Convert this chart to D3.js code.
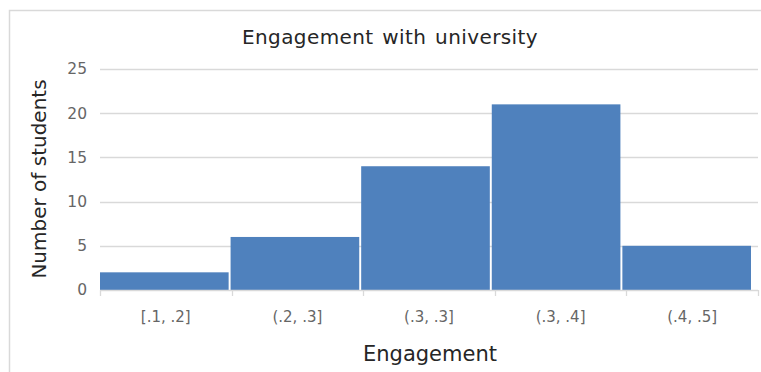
<!DOCTYPE html>
<html>
<head>
<meta charset="utf-8">
<script src="https://cdn.jsdelivr.net/npm/d3@7"></script>
<style>
  html, body { margin: 0; padding: 0; background: #fff; }
  svg { display: block; }
  text { font-family: "DejaVu Sans", "Open Sans", sans-serif; }
</style>
</head>
<body>
<svg id="chart" width="761" height="372"></svg>
<script>
// Histogram bins and counts
const categories = ["[.1, .2]", "(.2, .3]", "(.3, .3]", "(.3, .4]", "(.4, .5]"];
const counts = [2, 6, 14, 21, 5];
const yTicks = [0, 5, 10, 15, 20, 25];

const title = "Engagement with university";
const xTitle = "Engagement";
const yTitle = "Number of students";

const svg = d3.select("#chart");
const W = 761, H = 372;
const plot = { left: 100, right: 758, top: 69, bottom: 290 };

// Chart frame
svg.append("path")
  .attr("d", `M9.5,${H} V10.5 H${W}`)
  .attr("fill", "none")
  .attr("stroke", "#d9d9d9")
  .attr("stroke-width", 1.5);

const x = d3.scaleBand().domain(categories).range([plot.left, plot.right]);
const xBars = d3.scaleBand().domain(categories).range([plot.left, plot.right - 7]).paddingInner(0.015);
const y = d3.scaleLinear().domain([0, 25]).range([plot.bottom, plot.top]);

// Horizontal gridlines
svg.append("g").selectAll("line")
  .data(yTicks.filter(d => d > 0))
  .join("line")
  .attr("x1", plot.left).attr("x2", plot.right)
  .attr("y1", d => Math.round(y(d)) + 0.5).attr("y2", d => Math.round(y(d)) + 0.5)
  .attr("stroke", "#d9d9d9").attr("stroke-width", 1.3);

// Bars
svg.append("g").selectAll("rect")
  .data(counts)
  .join("rect")
  .attr("x", (d, i) => xBars(categories[i]))
  .attr("width", xBars.bandwidth())
  .attr("y", d => y(d))
  .attr("height", d => y(0) - y(d))
  .attr("fill", "#4f81bd");

// X axis with boundary ticks
const gx = svg.append("g");
gx.append("line")
  .attr("x1", plot.left).attr("x2", plot.right)
  .attr("y1", plot.bottom + 0.5).attr("y2", plot.bottom + 0.5)
  .attr("stroke", "#d9d9d9").attr("stroke-width", 1.3);
const bounds = categories.map(c => x(c)).concat([plot.right]);
gx.selectAll("line.tick")
  .data(bounds)
  .join("line")
  .attr("class", "tick")
  .attr("x1", d => Math.round(d) + 0.5).attr("x2", d => Math.round(d) + 0.5)
  .attr("y1", plot.bottom).attr("y2", plot.bottom + 6)
  .attr("stroke", "#d9d9d9").attr("stroke-width", 1.3);
gx.selectAll("text")
  .data(categories)
  .join("text")
  .attr("x", d => x(d) + x.bandwidth() / 2)
  .attr("y", 317)
  .attr("dy", "0.35em")
  .attr("text-anchor", "middle")
  .attr("font-size", 15)
  .attr("fill", "#666666")
  .text(d => d);

// Y axis labels
svg.append("g").selectAll("text")
  .data(yTicks)
  .join("text")
  .attr("x", 87)
  .attr("y", d => y(d))
  .attr("dy", "0.35em")
  .attr("text-anchor", "end")
  .attr("font-size", 15.5)
  .attr("fill", "#666666")
  .text(d => d);

// Titles
svg.append("text")
  .attr("x", 390).attr("y", 43.5)
  .attr("text-anchor", "middle")
  .attr("font-size", 20)
  .attr("word-spacing", 2)
  .attr("letter-spacing", 0.4)
  .attr("fill", "#262626")
  .text(title);

svg.append("text")
  .attr("x", 430).attr("y", 361)
  .attr("text-anchor", "middle")
  .attr("font-size", 21)
  .attr("fill", "#262626")
  .text(xTitle);

svg.append("text")
  .attr("transform", "translate(46,179) rotate(-90)")
  .attr("text-anchor", "middle")
  .attr("font-size", 20)
  .attr("fill", "#262626")
  .text(yTitle);
</script>
</body>
</html>
